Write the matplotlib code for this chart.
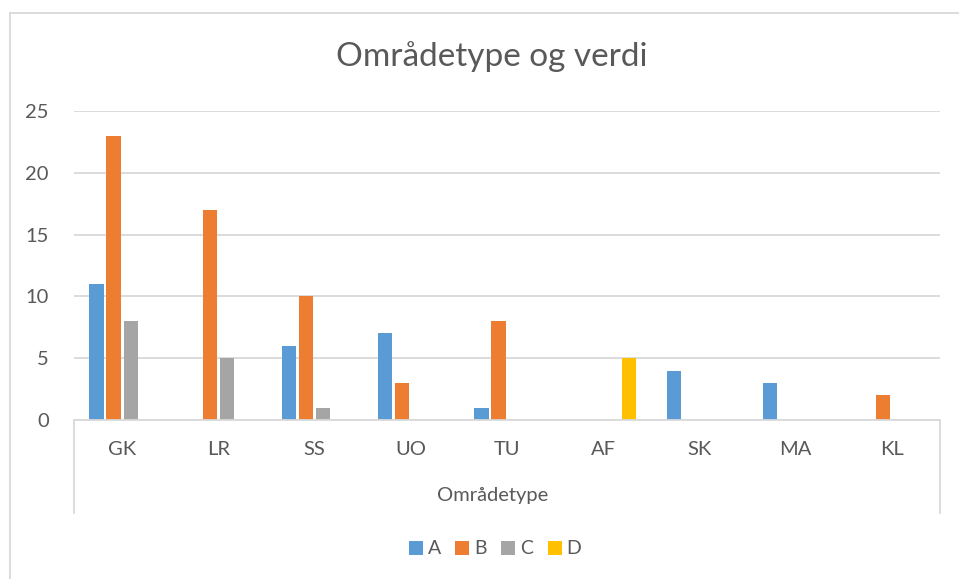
import matplotlib
matplotlib.use("Agg")
import matplotlib.pyplot as plt
import numpy as np
from matplotlib.lines import Line2D
from matplotlib.patches import Patch

categories = ["GK", "LR", "SS", "UO", "TU", "AF", "SK", "MA", "KL"]
series_names = ["A", "B", "C", "D"]
A = [11, 0, 6, 7, 1, 0, 4, 3, 0]
B = [23, 17, 10, 3, 8, 0, 0, 0, 2]
C = [8, 5, 1, 0, 0, 0, 0, 0, 0]
D = [0, 0, 0, 0, 0, 5, 0, 0, 0]
colors = ["#5B9BD5", "#ED7D31", "#A5A5A5", "#FFC000"]
yticks = [0, 5, 10, 15, 20, 25]

W, H = 959, 579
fig = plt.figure(figsize=(W / 100, H / 100), dpi=100)
plt.rcParams['font.family'] = ['Lato', 'DejaVu Sans']
txt = "#595959"
grid = "#D9D9D9"

ax = fig.add_axes([74 / W, 1 - 420 / H, (940 - 74) / W, (420 - 111) / H])
x = np.arange(len(categories))
stride = 0.177
bw = 0.148
for i, (vals, col) in enumerate(zip([A, B, C, D], colors)):
    ax.bar(x + (i - 1.5) * stride, vals, width=bw, color=col, zorder=3)

ax.set_xlim(-0.5, len(categories) - 0.5)
ax.set_ylim(0, 25)
ax.set_yticks(yticks)
ax.set_yticklabels([str(v) for v in yticks], fontsize=14.5, color=txt)
ax.set_xticks(x)
ax.set_xticklabels(categories, fontsize=14.5, color=txt)
ax.tick_params(axis='both', length=0)
ax.tick_params(axis='y', pad=18)
ax.tick_params(axis='x', pad=15)
ax.grid(axis='y', color=grid, linewidth=1.3, zorder=0)
for s in ["top", "left", "right"]:
    ax.spines[s].set_visible(False)
ax.spines["bottom"].set_color(grid)
ax.spines["bottom"].set_linewidth(1.3)
ax.spines["bottom"].set_zorder(4)
depth = (513 - 420) / (420 - 111)
for xx in (0, 1):
    ax.add_line(Line2D([xx, xx], [0, -depth], transform=ax.transAxes,
                       color=grid, linewidth=1.3, clip_on=False))

fig.text(493 / W, 1 - 495 / H, "Områdetype", ha='center', va='center',
         fontsize=14.5, color=txt)
fig.text(492 / W, 1 - 57 / H, "Områdetype og verdi", ha='center', va='center',
         fontsize=24, color=txt)

# chart border
fig.add_artist(Line2D([9.5 / W, 9.5 / W], [0, 1 - 12.5 / H], transform=fig.transFigure,
                      color=grid, linewidth=1.3))
fig.add_artist(Line2D([9.5 / W, 1], [1 - 12.5 / H, 1 - 12.5 / H], transform=fig.transFigure,
                      color=grid, linewidth=1.3))

handles = [Patch(facecolor=c, edgecolor='none') for c in colors]
leg = fig.legend(handles, series_names, loc='center', bbox_to_anchor=(495 / W, 1 - 549 / H),
                 ncol=4, frameon=False, fontsize=14, handlelength=0.72, handleheight=0.72,
                 handletextpad=0.25, columnspacing=0.75)
for t in leg.get_texts():
    t.set_color(txt)

fig.savefig("out.png", dpi=100, facecolor='white')
